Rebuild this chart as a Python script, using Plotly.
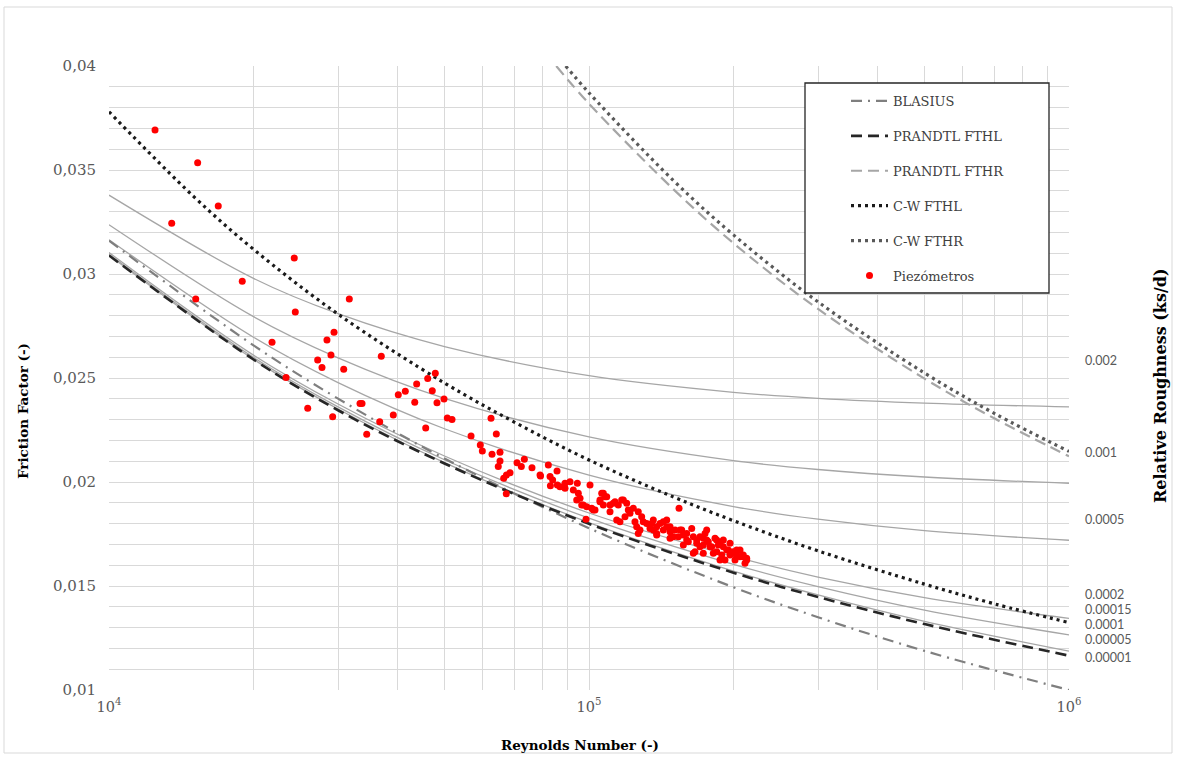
import plotly.graph_objects as go

# ---------------- data ----------------
re_curve = [1e4, 2e4, 3e4, 5e4, 1e5, 2e5, 3e5, 5e5, 1e6]

# relative roughness curves (thin grey)
rough_names = ["0.002", "0.001", "0.0005", "0.0001", "0.00005", "0.00001"]
f_rough_0002 = [0.03379, 0.02979, 0.02809, 0.02651, 0.02511, 0.02431, 0.02402, 0.02379, 0.02361]
f_rough_0001 = [0.03237, 0.02795, 0.02597, 0.02402, 0.02217, 0.02103, 0.02060, 0.02024, 0.01994]
f_rough_00005 = [0.03165, 0.02696, 0.02478, 0.02256, 0.02033, 0.01882, 0.01821, 0.01766, 0.01720]
f_rough_00001 = [0.03103, 0.02610, 0.02375, 0.02125, 0.01851, 0.01642, 0.01543, 0.01444, 0.01344]
f_rough_000005 = [0.03095, 0.02599, 0.02361, 0.02107, 0.01826, 0.01604, 0.01497, 0.01384, 0.01265]
f_rough_000001 = [0.03090, 0.02590, 0.02351, 0.02093, 0.01805, 0.01572, 0.01457, 0.01330, 0.01187]

f_blasius = [0.03160, 0.02657, 0.02401, 0.02113, 0.01778, 0.01494, 0.01350, 0.01188, 0.01000]
f_prandtl_fthl = [0.03089, 0.02589, 0.02345, 0.02089, 0.01799, 0.01564, 0.01447, 0.01317, 0.01165]

re_cw_fthl = [1e4, 1.5e4, 2e4, 3e4, 5e4, 7e4, 1e5, 1.5e5, 2e5, 3e5, 5e5, 7e5, 1e6]
f_cw_fthl = [0.03780, 0.03373, 0.03119, 0.02807, 0.02476, 0.02287, 0.02106, 0.01928,
             0.01814, 0.01669, 0.01509, 0.01414, 0.01324]

re_prandtl_fthr = [85460, 1e5, 1.5e5, 2e5, 3e5, 5e5, 7e5, 1e6]
f_prandtl_fthr = [0.04000, 0.03819, 0.03407, 0.03148, 0.02832, 0.02497, 0.02305, 0.02124]

re_cw_fthr = [89430, 1e5, 1.5e5, 2e5, 3e5, 5e5, 7e5, 1e6]
f_cw_fthr = [0.04000, 0.03871, 0.03449, 0.03188, 0.02866, 0.02524, 0.02329, 0.02147]

# piezometer measurements
re_pts = [12470, 15300, 16890, 13510, 24320, 18950, 15160, 31670, 24440, 29430,
          28450, 21860, 29000, 36920, 27210, 27780, 30830, 40060, 23380, 33340,
          33660, 25940, 29240, 39110, 36640, 34430, 41430, 43750, 43350, 46130,
          47840, 47150, 48230, 45690, 49880, 50680, 51830, 56790, 62500, 64110,
          59370, 59950, 62800, 65250, 65250, 64710, 70800, 72280, 73330, 76070,
          68460, 67310, 66420, 67250, 82280, 85780, 79250, 82960, 84000, 83100,
          85920, 79060, 87020, 89130, 91290, 92750, 94550, 95000, 95790, 96560,
          98890, 98570, 100480, 101300, 102920, 105410, 107110, 108870, 110600, 113290,
          115090, 117890, 118850, 114210, 120750, 123670, 124670, 125700, 126660, 128750,
          129740, 131880, 133990, 136140, 138360, 140580, 142830, 145190, 147520, 149860,
          154010, 154760, 157230, 159790, 163680, 164940, 167640, 170300, 173030, 174470,
          175880, 178690, 181550, 184510, 187460, 190460, 193600, 196700, 199810, 203110,
          206360, 209600, 213060, 211350, 196700, 187460, 175880, 89130, 94280, 97300,
          102090, 106290, 107980, 105410, 107110, 112360, 110600, 116980, 119820, 121720,
          116030, 127710, 126660, 135080, 138360, 145190, 136140, 138360, 142830, 147520,
          151100, 153490, 147520, 156010, 159790, 164940, 161040, 167640, 157230, 166270,
          170300, 173030, 177220, 180140, 173030, 183020, 185960, 190460, 195070, 189020,
          184510, 192000, 199810, 203110, 206360, 209050, 201480, 213060]
f_pts = [0.03692, 0.03535, 0.03327, 0.03244, 0.03077, 0.02965, 0.02880, 0.02880, 0.02817, 0.02720,
         0.02683, 0.02672, 0.02611, 0.02604, 0.02587, 0.02550, 0.02542, 0.02420, 0.02503, 0.02378,
         0.02378, 0.02354, 0.02314, 0.02322, 0.02290, 0.02229, 0.02436, 0.02471, 0.02383, 0.02497,
         0.02523, 0.02439, 0.02381, 0.02260, 0.02399, 0.02308, 0.02300, 0.02221, 0.02306, 0.02231,
         0.02178, 0.02149, 0.02133, 0.02143, 0.02101, 0.02074, 0.02093, 0.02074, 0.02109, 0.02069,
         0.02045, 0.02034, 0.02018, 0.01944, 0.02082, 0.02053, 0.02029, 0.02026, 0.02010, 0.01982,
         0.01986, 0.02034, 0.01977, 0.01994, 0.02001, 0.01962, 0.01994, 0.01946, 0.01922, 0.01889,
         0.01881, 0.01821, 0.01986, 0.01874, 0.01865, 0.01913, 0.01946, 0.01929, 0.01889, 0.01905,
         0.01889, 0.01913, 0.01833, 0.01817, 0.01865, 0.01874, 0.01809, 0.01785, 0.01857, 0.01833,
         0.01809, 0.01801, 0.01777, 0.01817, 0.01745, 0.01801, 0.01809, 0.01785, 0.01761, 0.01737,
         0.01874, 0.01769, 0.01745, 0.01721, 0.01777, 0.01657, 0.01721, 0.01737, 0.01697, 0.01753,
         0.01721, 0.01689, 0.01657, 0.01721, 0.01625, 0.01689, 0.01673, 0.01705, 0.01657, 0.01673,
         0.01641, 0.01649, 0.01633, 0.01609, 0.01649, 0.01705, 0.01769, 0.01970, 0.01913, 0.01889,
         0.01865, 0.01946, 0.01929, 0.01905, 0.01889, 0.01898, 0.01857, 0.01913, 0.01898, 0.01850,
         0.01809, 0.01769, 0.01753, 0.01801, 0.01785, 0.01817, 0.01769, 0.01753, 0.01769, 0.01785,
         0.01769, 0.01737, 0.01729, 0.01769, 0.01753, 0.01737, 0.01713, 0.01705, 0.01697, 0.01665,
         0.01689, 0.01729, 0.01713, 0.01689, 0.01657, 0.01729, 0.01697, 0.01721, 0.01673, 0.01649,
         0.01665, 0.01625, 0.01665, 0.01649, 0.01673, 0.01641, 0.01625, 0.01625]

label_texts = ["0.002", "0.001", "0.0005", "0.0002", "0.00015", "0.0001", "0.00005", "0.00001"]

x_tick_vals = [1e4, 2e4, 3e4, 4e4, 5e4, 6e4, 7e4, 8e4, 9e4,
               1e5, 2e5, 3e5, 4e5, 5e5, 6e5, 7e5, 8e5, 9e5, 1e6]
x_tick_text = ["10<sup>4</sup>"] + [""] * 8 + ["10<sup>5</sup>"] + [""] * 8 + ["10<sup>6</sup>"]
y_tick_vals = [round(0.010 + 0.001 * i, 3) for i in range(31)]
y_tick_text = [("%g" % v).replace(".", ",") if (i % 5 == 0) else "" for i, v in enumerate(y_tick_vals)]

# ---------------- figure ----------------
W, H = 1177, 757
L, R, T, B = 109, 1069, 66, 690


def px(xp):
    return (xp - L) / (R - L)


def py(yp):
    return (B - yp) / (B - T)


SERIF = "DejaVu Serif, Liberation Serif, serif"
fig = go.Figure()

rough_series = [f_rough_0002, f_rough_0001, f_rough_00005, f_rough_00001, f_rough_000005, f_rough_000001]
for name, fs in zip(rough_names, rough_series):
    fig.add_trace(go.Scatter(x=re_curve, y=fs, mode="lines", name=name, showlegend=False,
                             line=dict(color="#a6a6a6", width=1.3, shape="spline")))

fig.add_trace(go.Scatter(x=re_curve, y=f_blasius, mode="lines", name="BLASIUS", legendgroup="g1", legendrank=1,
                         line=dict(color="#7f7f7f", width=2.2, dash="11px,6px,2px,6px", shape="spline")))
fig.add_trace(go.Scatter(x=re_curve, y=f_prandtl_fthl, mode="lines", name="PRANDTL FTHL", legendgroup="g2", legendrank=2,
                         line=dict(color="#262626", width=2.6, dash="11px,6px", shape="spline")))
fig.add_trace(go.Scatter(x=re_prandtl_fthr, y=f_prandtl_fthr, mode="lines", name="PRANDTL FTHR", legendgroup="g3", legendrank=3,
                         line=dict(color="#a6a6a6", width=2.2, dash="11px,6px", shape="spline")))
fig.add_trace(go.Scatter(x=re_cw_fthl, y=f_cw_fthl, mode="lines", name="C-W FTHL", legendgroup="g4", legendrank=4,
                         line=dict(color="#1a1a1a", width=3.2, dash="3px,4px", shape="spline")))
fig.add_trace(go.Scatter(x=re_cw_fthr, y=f_cw_fthr, mode="lines", name="C-W FTHR", legendgroup="g5", legendrank=5,
                         line=dict(color="#595959", width=3.2, dash="3px,4px", shape="spline")))
fig.add_trace(go.Scatter(x=re_pts, y=f_pts, mode="markers", name="Piezómetros", legendgroup="g6", legendrank=6,
                         marker=dict(color="#ff0000", size=7, line=dict(width=0))))

annotations = []
label_y_pos = [360, 452, 519, 594, 609, 624, 639, 657]  # pixel rows of the right-hand labels
for txt, yp in zip(label_texts, label_y_pos):
    annotations.append(dict(text=txt, x=px(1083), y=py(yp), xref="paper", yref="paper",
                            xanchor="left", yanchor="middle", showarrow=False,
                            font=dict(family="Lato, Liberation Sans, sans-serif", size=12.5, color="#595959")))
annotations.append(dict(text="<b>Relative Roughness (ks/d)</b>", x=px(1160), y=py(386), xref="paper", yref="paper",
                        textangle=-90, showarrow=False, xanchor="center", yanchor="middle",
                        font=dict(family=SERIF, size=16, color="#000000")))
annotations.append(dict(text="<b>Friction Factor (-)</b>", x=px(23), y=py(411), xref="paper", yref="paper",
                        textangle=-90, showarrow=False, xanchor="center", yanchor="middle",
                        font=dict(family=SERIF, size=13.5, color="#000000")))
annotations.append(dict(text="<b>Reynolds Number (-)</b>", x=px(580), y=py(745), xref="paper", yref="paper",
                        showarrow=False, xanchor="center", yanchor="middle",
                        font=dict(family=SERIF, size=13.5, color="#000000")))

shapes = [
    dict(type="rect", xref="paper", yref="paper", x0=px(4), x1=px(1172), y0=py(753), y1=py(7),
         line=dict(color="#d9d9d9", width=1), layer="below"),
    dict(type="rect", xref="paper", yref="paper", x0=px(805), x1=px(1049), y0=py(293), y1=py(83),
         line=dict(color="#262626", width=1.3), fillcolor="white", layer="above"),
]

fig.update_layout(
    width=W, height=H,
    margin=dict(l=L, r=W - R, t=T, b=H - B),
    paper_bgcolor="white", plot_bgcolor="white",
    showlegend=True,
    legend=dict(x=px(846), y=py(86), xanchor="left", yanchor="top",
                bgcolor="rgba(0,0,0,0)", borderwidth=0, itemwidth=37,
                tracegroupgap=15, traceorder="grouped",
                font=dict(family=SERIF, size=13, color="#404040")),
    annotations=annotations,
    shapes=shapes,
)
fig.update_xaxes(type="log", range=[4, 6], tickvals=x_tick_vals, ticktext=x_tick_text,
                 showgrid=True, gridcolor="#d9d9d9", gridwidth=1, zeroline=False,
                 showline=False, ticks="", ticklabelstandoff=6,
                 tickfont=dict(family=SERIF, size=14.5, color="#595959"))
fig.update_yaxes(range=[0.01, 0.04], tickvals=y_tick_vals, ticktext=y_tick_text,
                 showgrid=True, gridcolor="#d9d9d9", gridwidth=1, zeroline=False,
                 showline=False, ticks="", ticklabelstandoff=12,
                 tickfont=dict(family=SERIF, size=15, color="#595959"))

fig.write_html("out.html", config={"displayModeBar": False},
               post_script="document.body.style.margin='0';")
